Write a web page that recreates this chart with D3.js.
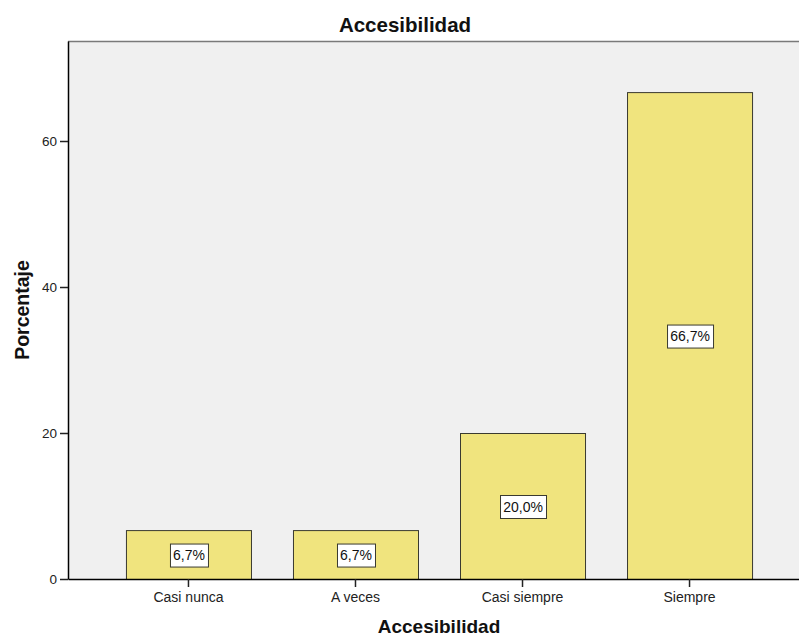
<!DOCTYPE html>
<html><head><meta charset="utf-8">
<script src="https://cdn.jsdelivr.net/npm/d3@7"></script>
<style>body{margin:0;background:#fff}svg{display:block;font-family:"Liberation Sans",Arial,sans-serif}</style>
</head><body>
<svg id="c" width="799" height="637"></svg>
<script>
const categories = ["Casi nunca", "A veces", "Casi siempre", "Siempre"];
const values = [6.7, 6.7, 20.0, 66.7];
const labels = ["6,7%", "6,7%", "20,0%", "66,7%"];
const yTicks = [0, 20, 40, 60];
const title = "Accesibilidad";
const xTitle = "Accesibilidad";
const yTitle = "Porcentaje";

const svg = d3.select("#c");
const pLeft = 68, pRight = 810, pTop = 41, pBottom = 579;

const x = d3.scaleBand().domain(categories).range([pLeft, pRight]).paddingInner(0.2515).paddingOuter(0.347);
const y = d3.scaleLinear().domain([0, 73.7]).range([pBottom, pTop]);

// plot background
svg.append("rect").attr("x", pLeft).attr("y", pTop).attr("width", pRight - pLeft).attr("height", pBottom - pTop).attr("fill", "#f0f0f0");
// top border
svg.append("line").attr("x1", pLeft).attr("x2", pRight).attr("y1", pTop + 0.5).attr("y2", pTop + 0.5).attr("stroke", "#7a7a7a").attr("stroke-width", 1.5);

// bars
svg.selectAll("rect.bar").data(values).enter().append("rect").attr("class", "bar")
  .attr("x", (d, i) => x(categories[i]) + 0.5)
  .attr("y", d => y(d) + 0.5)
  .attr("width", x.bandwidth())
  .attr("height", d => pBottom - y(d))
  .attr("fill", "#f0e47e").attr("stroke", "#3a3a30").attr("stroke-width", 1);

// value labels
const lab = svg.selectAll("g.lab").data(values).enter().append("g").attr("class", "lab")
  .attr("transform", (d, i) => `translate(${x(categories[i]) + x.bandwidth() / 2 + 0.5},${y(d / 2) + 1})`);
lab.append("text").attr("text-anchor", "middle").attr("dy", "0.35em").attr("font-size", "14px").attr("fill", "#111")
  .text((d, i) => labels[i]).each(function () {
    const b = this.getBBox();
    d3.select(this.parentNode).insert("rect", "text")
      .attr("x", Math.round(b.x - 3) + 0.5).attr("y", -11.5).attr("width", Math.round(b.width + 6)).attr("height", 23)
      .attr("fill", "#fff").attr("stroke", "#3a3a30").attr("stroke-width", 1);
  });

// y axis
const yAxis = svg.append("g").attr("transform", `translate(${pLeft},0)`)
  .call(d3.axisLeft(y).tickValues(yTicks).tickSize(8).tickPadding(3).tickSizeOuter(0));
yAxis.select(".domain").attr("stroke", "#000").attr("stroke-width", 1.5);
yAxis.selectAll("line").attr("stroke", "#222").attr("stroke-width", 1.5);
yAxis.selectAll("text").attr("font-size", "13.5px").attr("fill", "#222").attr("font-family", "Liberation Sans, Arial, sans-serif");

// x axis
const xAxis = svg.append("g").attr("transform", `translate(0,${pBottom})`)
  .call(d3.axisBottom(x).tickSize(8).tickPadding(5).tickSizeOuter(0));
xAxis.select(".domain").attr("stroke", "#000").attr("stroke-width", 1.5);
xAxis.selectAll("line").attr("stroke", "#222").attr("stroke-width", 1.5);
xAxis.selectAll("text").attr("font-size", "14px").attr("fill", "#222").attr("font-family", "Liberation Sans, Arial, sans-serif");

// titles
svg.append("text").attr("x", 405).attr("y", 32).attr("text-anchor", "middle").attr("font-weight", "bold").attr("font-size", "20.5px").attr("fill", "#111").text(title);
svg.append("text").attr("x", 439).attr("y", 633).attr("text-anchor", "middle").attr("font-weight", "bold").attr("font-size", "19px").attr("fill", "#111").text(xTitle);
svg.append("text").attr("transform", "translate(29,310) rotate(-90)").attr("text-anchor", "middle").attr("font-weight", "bold").attr("font-size", "19.5px").attr("fill", "#111").text(yTitle);
</script>
</body></html>
